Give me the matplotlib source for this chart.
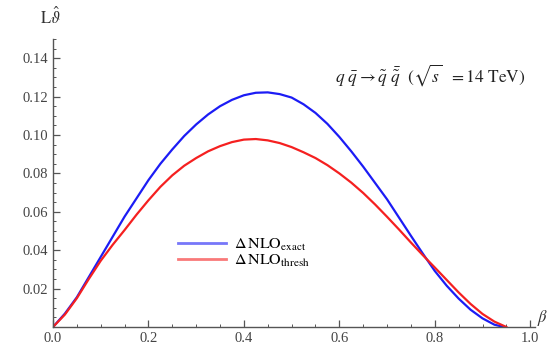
import matplotlib
matplotlib.use('Agg')
from matplotlib import pyplot as plt
from matplotlib.ticker import MultipleLocator, FixedLocator

plt.rcParams['font.family'] = ['Liberation Serif', 'DejaVu Serif']
plt.rcParams['mathtext.fontset'] = 'stix'

########################## data ##########################
beta_exact = [0.0, 0.025, 0.05, 0.075, 0.10, 0.125, 0.15, 0.175, 0.20, 0.225, 0.25, 0.275,
              0.30, 0.325, 0.35, 0.375, 0.40, 0.425, 0.45, 0.475, 0.50, 0.525, 0.55, 0.575,
              0.60, 0.625, 0.65, 0.675, 0.70, 0.725, 0.75, 0.775, 0.80, 0.825, 0.85, 0.875,
              0.90, 0.925, 0.945]
nlo_exact = [0.0, 0.0070, 0.0155, 0.0260, 0.0365, 0.0470, 0.0575, 0.0670, 0.0765, 0.0850,
             0.0925, 0.0995, 0.1055, 0.1107, 0.1150, 0.1183, 0.1207, 0.1220, 0.1222, 0.1213,
             0.1195, 0.1160, 0.1115, 0.1058, 0.0990, 0.0915, 0.0835, 0.0750, 0.0665, 0.0570,
             0.0475, 0.0382, 0.0292, 0.0215, 0.0148, 0.0090, 0.0045, 0.0012, 0.0]

beta_thresh = [0.0, 0.025, 0.05, 0.075, 0.10, 0.125, 0.15, 0.175, 0.20, 0.225, 0.25, 0.275,
               0.30, 0.325, 0.35, 0.375, 0.40, 0.425, 0.45, 0.475, 0.50, 0.525, 0.55, 0.575,
               0.60, 0.625, 0.65, 0.675, 0.70, 0.725, 0.75, 0.775, 0.80, 0.825, 0.85, 0.875,
               0.90, 0.925, 0.95]
nlo_thresh = [0.0, 0.0065, 0.0150, 0.0250, 0.0345, 0.0428, 0.0505, 0.0585, 0.0660, 0.0730,
              0.0790, 0.0840, 0.0880, 0.0915, 0.0942, 0.0963, 0.0976, 0.0979, 0.0972, 0.0958,
              0.0937, 0.0910, 0.0880, 0.0843, 0.0800, 0.0752, 0.0698, 0.0638, 0.0574, 0.0508,
              0.0440, 0.0374, 0.0310, 0.0245, 0.0180, 0.0120, 0.0068, 0.0028, 0.0]

x_ticks = [0.0, 0.2, 0.4, 0.6, 0.8, 1.0]
x_ticklabels = ['0.0', '0.2', '0.4', '0.6', '0.8', '1.0']
y_ticks = [0.02, 0.04, 0.06, 0.08, 0.10, 0.12, 0.14]
y_ticklabels = ['0.02', '0.04', '0.06', '0.08', '0.10', '0.12', '0.14']
###############################################################################

fig = plt.figure(figsize=(5.54, 3.52), dpi=100)
ax = fig.add_axes([53 / 554, 25 / 352, 482 / 554, 288 / 352])

axcol = '#555555'
ax.plot(beta_exact, nlo_exact, color='#1c1cf5', lw=1.6, label=r'$\Delta\,\mathrm{NLO}_{\mathrm{exact}}$')
ax.plot(beta_thresh, nlo_thresh, color='#f52020', lw=1.6, label=r'$\Delta\,\mathrm{NLO}_{\mathrm{thresh}}$')

ax.set_xlim(0, 1.01)
ax.set_ylim(0, 0.150)
for s in ['top', 'right']:
    ax.spines[s].set_visible(False)
for s in ['left', 'bottom']:
    ax.spines[s].set_color(axcol)
    ax.spines[s].set_linewidth(1.0)

ax.xaxis.set_major_locator(FixedLocator(x_ticks))
ax.set_xticklabels(x_ticklabels)
ax.xaxis.set_minor_locator(MultipleLocator(0.05))
ax.yaxis.set_major_locator(FixedLocator(y_ticks))
ax.set_yticklabels(y_ticklabels)
ax.yaxis.set_minor_locator(MultipleLocator(0.005))
ax.tick_params(which='both', direction='in', color=axcol, labelcolor='#444444', labelsize=10.5)
ax.tick_params(which='major', length=5, width=0.9)
ax.tick_params(which='minor', length=2.5, width=0.7)

fig.text(50 / 554, 1 - 17 / 352, r'$\mathrm{L}\hat{\vartheta}$', ha='center', va='center',
         fontsize=12, color='#333333')
fig.text(543 / 554, 1 - 318 / 352, r'$\beta$', ha='center', va='center', fontsize=12, color='#333333')
fig.text(335 / 554, 1 - 75 / 352,
         r'$q\ \bar{q}\rightarrow\tilde{q}\ \bar{\tilde{q}}\ \ (\sqrt{s}\ \ =14\ \mathrm{TeV})$',
         fontsize=12.5, color='#222222', ha='left', va='center')

leg = ax.legend(loc='center left', bbox_to_anchor=(170 / 554, 1 - 253 / 352),
                bbox_transform=fig.transFigure, frameon=False, fontsize=11.5,
                handlelength=3.0, handletextpad=0.5, labelspacing=0.0, borderpad=0)
for ln in leg.get_lines():
    ln.set_alpha(0.6)
    ln.set_linewidth(2.0)

plt.savefig('out.png', dpi=100)
